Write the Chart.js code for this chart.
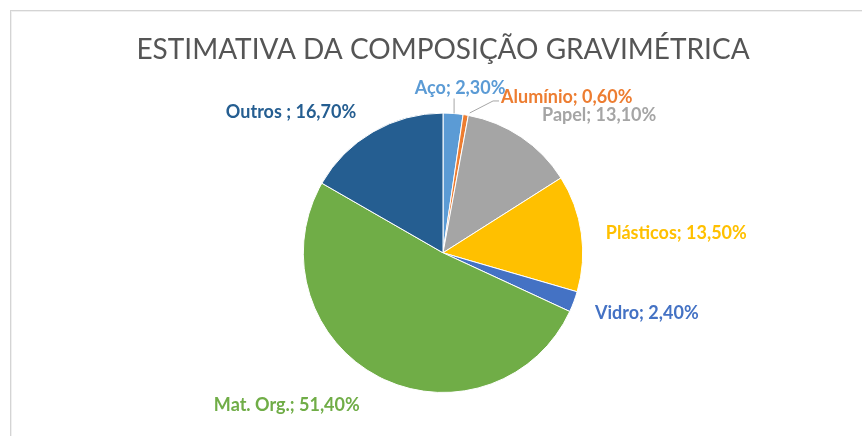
<!DOCTYPE html>
<html>
<head>
<meta charset="utf-8">
<script src="https://cdn.jsdelivr.net/npm/chart.js@4.4.1/dist/chart.umd.min.js"></script>
<style>
  html, body { margin: 0; padding: 0; background: #fff; }
  .frame {
    position: absolute; left: 10px; top: 10px; width: 900px; height: 480px;
    border-left: 1px solid #d4d4d4; border-top: 1px solid #d4d4d4;
    box-shadow: inset 1px 1px 0 #f0f0f0;
  }
  .wrap { position: absolute; left: 0; top: 0; width: 862px; height: 436px; }
</style>
</head>
<body>
<div class="frame"></div>
<div class="wrap"><canvas id="composicao"></canvas></div>
<script>
const categories = ['Aço', 'Alumínio', 'Papel', 'Plásticos', 'Vidro', 'Mat. Org.', 'Outros '];
const percentages = [2.30, 0.60, 13.10, 13.50, 2.40, 51.40, 16.70];
const sliceColors = ['#5B9BD5', '#ED7D31', '#A5A5A5', '#FFC000', '#4472C4', '#70AD47', '#255E91'];

// where each label sits, relative to the point on the rim at the slice's middle angle
const labelOffsets = [
    { dx: 7, dy: -25 },
    { dx: 101, dy: -18 },
    { dx: 78, dy: -22 },
    { dx: 95, dy: 0 },
    { dx: 73, dy: 11 },
    { dx: -92, dy: 28 },
    { dx: -82, dy: -20 }
];

const FONT = 'Lato, "Open Sans", sans-serif';

const pieLabels = {
    id: 'pieLabels',
    afterDatasetsDraw(chart) {
        const ctx = chart.ctx;
        const meta = chart.getDatasetMeta(0);
        ctx.save();
        ctx.font = 'bold 18px ' + FONT;
        ctx.textAlign = 'center';
        ctx.textBaseline = 'middle';
        meta.data.forEach((arc, i) => {
            const p = arc.getProps(['x', 'y', 'startAngle', 'endAngle', 'outerRadius']);
            const mid = (p.startAngle + p.endAngle) / 2;
            const ax = p.x + Math.cos(mid) * p.outerRadius;
            const ay = p.y + Math.sin(mid) * p.outerRadius;
            const off = labelOffsets[i];
            const tx = ax + off.dx;
            const ty = ay + off.dy;
            const text = categories[i] + '; ' + percentages[i].toFixed(2).replace('.', ',') + '%';

            // leader lines for the two thin slices at the top
            if (i === 0 || i === 1) {
                ctx.strokeStyle = '#a6a6a6';
                ctx.lineWidth = 1;
                ctx.beginPath();
                if (i === 0) {
                    ctx.moveTo(ax + 1, ay);
                    ctx.lineTo(ax + 1, ty + 10);
                } else {
                    const w = ctx.measureText(text).width;
                    ctx.moveTo(ax + 4, ay - 2);
                    ctx.lineTo(tx - w / 2 - 8, ty + 4);
                    ctx.lineTo(tx - w / 2 - 2, ty + 4);
                }
                ctx.stroke();
            }

            ctx.fillStyle = sliceColors[i];
            ctx.fillText(text, tx, ty);
        });
        ctx.restore();
    }
};

new Chart(document.getElementById('composicao').getContext('2d'), {
    type: 'pie',
    data: {
        labels: categories,
        datasets: [{
            data: percentages,
            backgroundColor: sliceColors,
            borderColor: '#ffffff',
            borderWidth: 1
        }]
    },
    options: {
        responsive: true,
        maintainAspectRatio: false,
        animation: false,
        layout: { padding: { top: 0, bottom: 43, left: 24, right: 0 } },
        plugins: {
            legend: { display: false },
            tooltip: { enabled: false },
            title: {
                display: true,
                text: 'ESTIMATIVA DA COMPOSIÇÃO GRAVIMÉTRICA',
                color: '#555555',
                font: { family: FONT, size: 28, weight: 'normal' },
                padding: { top: 33, bottom: 46 }
            }
        }
    },
    plugins: [pieLabels]
});
</script>
</body>
</html>
